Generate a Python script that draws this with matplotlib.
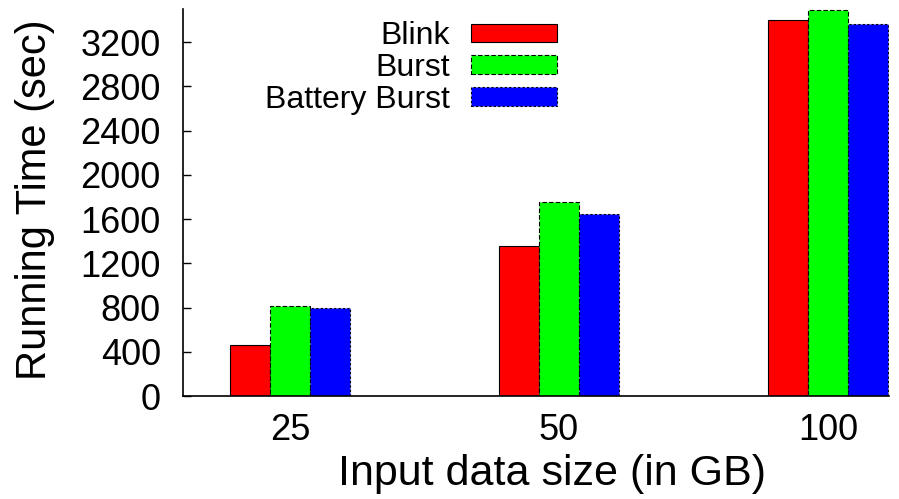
import matplotlib
matplotlib.use("Agg")
import matplotlib.pyplot as plt
from matplotlib.patches import Patch
import numpy as np

plt.rcParams["font.family"] = ["Liberation Sans", "DejaVu Sans"]

# Input sizes (GB) and measured running times (sec)
sizes = ["25", "50", "100"]
series_names = ["Blink", "Burst", "Battery Burst"]
blink = [460, 1360, 3405]
burst = [810, 1755, 3495]
battery_burst = [795, 1645, 3365]
y_ticks = [0, 400, 800, 1200, 1600, 2000, 2400, 2800, 3200]

values = [blink, burst, battery_burst]
colors = ["#ff0000", "#00ff00", "#0000ff"]
edge_styles = ["-", (0, (4, 2)), (0, (2, 2))]

W, H = 899, 499
fig = plt.figure(figsize=(W / 100, H / 100), dpi=100)
ax = fig.add_axes([183 / W, 1 - 396 / H, 706 / W, 387 / H])

x = np.arange(len(sizes))
bw = 0.1487
handles = []
for i, (name, vals, col, ls) in enumerate(zip(series_names, values, colors, edge_styles)):
    ax.bar(x + (i - 1) * bw, vals, width=bw, color=col, edgecolor="black",
           linewidth=0.8, linestyle=ls, zorder=2)
    handles.append(Patch(facecolor=col, edgecolor="black", linewidth=0.8,
                         linestyle=ls, label=name))

ax.set_xlim(-0.398, 2.227)
ax.set_ylim(0, 3500)
ax.set_xticks(x)
ax.set_xticklabels(sizes)
ax.set_yticks(y_ticks)

for side in ("top", "right"):
    ax.spines[side].set_visible(False)
for side in ("left", "bottom"):
    ax.spines[side].set_linewidth(1.2)
    ax.spines[side].set_zorder(3)

ax.tick_params(axis="y", direction="in", length=6, width=1.0, pad=16,
               labelsize=26)
ax.tick_params(axis="x", length=0, pad=12, labelsize=26)

fig.text(35 / W, 1 - 200 / H, "Running Time (sec)", rotation=90,
         ha="center", va="center", fontsize=30)
fig.text(552 / W, 1 - 485 / H, "Input data size (in GB)",
         ha="center", va="baseline", fontsize=31)

fs = 23
fs_px = fs * 100 / 72
leg = ax.legend(handles=handles, loc="center right",
                bbox_to_anchor=(557 / W, 1 - 68 / H),
                bbox_transform=fig.transFigure, frameon=False,
                markerfirst=False, fontsize=fs, borderpad=0,
                borderaxespad=0, handlelength=86 / fs_px,
                handleheight=16.5 / fs_px, handletextpad=21 / fs_px,
                labelspacing=0.05)

fig.savefig("out.png", dpi=100)
